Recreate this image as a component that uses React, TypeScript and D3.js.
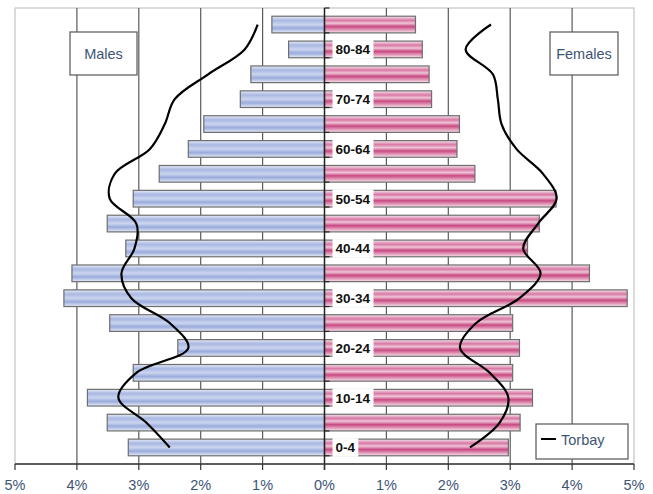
import React from "react";
import * as d3 from "d3";

const ages = ["0-4","5-9","10-14","15-19","20-24","25-29","30-34","35-39","40-44","45-49","50-54","55-59","60-64","65-69","70-74","75-79","80-84","85+"];
const labelledAges = ["0-4","10-14","20-24","30-34","40-44","50-54","60-64","70-74","80-84"];
const males = [3.17,3.51,3.83,3.09,2.37,3.47,4.21,4.08,3.21,3.51,3.09,2.67,2.2,1.95,1.36,1.19,0.58,0.85];
const females = [2.97,3.16,3.36,3.04,3.15,3.04,4.89,4.28,3.28,3.47,3.74,2.43,2.14,2.18,1.73,1.69,1.58,1.47];
const torbayMales = [2.5,2.88,3.33,3.04,2.2,2.5,3.12,3.28,3.07,3.04,3.47,3.39,2.82,2.58,2.42,1.88,1.29,1.08];
const torbayFemales = [2.35,2.83,2.97,2.67,2.19,2.45,3.15,3.49,3.21,3.45,3.75,3.53,3.1,2.86,2.8,2.72,2.28,2.69];
const xTicks = [-5,-4,-3,-2,-1,0,1,2,3,4,5];

const W = 653, H = 494;
const left = 15, right = 634, top = 8, bottom = 464;
const font = "Arial, 'Liberation Sans', sans-serif";
const txtColor = "#3d5575";

export default function App() {
  const x = d3.scaleLinear().domain([-5, 5]).range([left, right]);
  const y = d3.scaleBand<string>().domain([...ages].reverse()).range([top, bottom]).padding(0.33);
  const step = y.step();
  const bw = y.bandwidth();
  const cy = (a: string) => (y(a) as number) + bw / 2;

  const line = d3.line<[number, number]>().x(d => d[0]).y(d => d[1]).curve(d3.curveCatmullRom.alpha(0.5));
  const mPts: [number, number][] = ages.map((a, i) => [x(-torbayMales[i]), cy(a)]);
  const fPts: [number, number][] = ages.map((a, i) => [x(torbayFemales[i]), cy(a)]);

  const boundaries = d3.range(ages.length + 1).map(i => top + i * step);

  return (
    <svg width={W} height={H} style={{ position: "absolute", left: 0, top: 0, background: "#fff" }}>
      <defs>
        <linearGradient id="gm" x1="0" y1="0" x2="0" y2="1">
          <stop offset="0" stopColor="#e6ebf7" />
          <stop offset="0.25" stopColor="#a9b8e2" />
          <stop offset="0.5" stopColor="#cbd5ef" />
          <stop offset="0.72" stopColor="#9aabdc" />
          <stop offset="1" stopColor="#e6ebf7" />
        </linearGradient>
        <linearGradient id="gf" x1="0" y1="0" x2="0" y2="1">
          <stop offset="0" stopColor="#f5e6ee" />
          <stop offset="0.25" stopColor="#d878a4" />
          <stop offset="0.42" stopColor="#efc4d7" />
          <stop offset="0.62" stopColor="#c84a82" />
          <stop offset="0.85" stopColor="#e6a6c2" />
          <stop offset="1" stopColor="#f5e6ee" />
        </linearGradient>
      </defs>
      {/* plot border */}
      <rect x={left} y={top} width={right - left} height={bottom - top} fill="#fff" stroke="#c4c4c4" strokeWidth={1.2} />
      {/* gridlines */}
      {xTicks.filter(t => Math.abs(t) !== 5 && t !== 0).map(t => (
        <line key={"g" + t} x1={x(t)} x2={x(t)} y1={top} y2={bottom} stroke="#5a5a5a" strokeWidth={1.2} />
      ))}
      {/* bars */}
      {ages.map((a, i) => (
        <rect key={"m" + a} x={x(-males[i])} y={y(a)} width={x(0) - x(-males[i])} height={bw} fill="url(#gm)" stroke="#6e6e6e" strokeWidth={1.2} />
      ))}
      {ages.map((a, i) => (
        <rect key={"f" + a} x={x(0)} y={y(a)} width={x(females[i]) - x(0)} height={bw} fill="url(#gf)" stroke="#6e6e6e" strokeWidth={1.2} />
      ))}
      {/* Torbay lines */}
      <path d={line(mPts) || ""} fill="none" stroke="#000" strokeWidth={2.2} />
      <path d={line(fPts) || ""} fill="none" stroke="#000" strokeWidth={2.2} />
      {/* zero axis */}
      <line x1={x(0)} x2={x(0)} y1={top} y2={bottom + 6} stroke="#222" strokeWidth={1.5} />
      {boundaries.map((b, i) => (
        <line key={"bt" + i} x1={x(0)} x2={x(0) + 5} y1={b} y2={b} stroke="#222" strokeWidth={1.2} />
      ))}
      {/* age labels */}
      {labelledAges.map(a => {
        const w = a.length * 7.6 - (a.includes("-") ? 3 : 0);
        return (
          <g key={"l" + a}>
            <rect x={x(0) + 8} y={(y(a) as number) - 1} width={w + 6} height={bw + 2} fill="#fff" />
            <text x={x(0) + 11} y={cy(a) + 5} fontFamily={font} fontSize={13.5} fontWeight="bold" fill="#111">{a}</text>
          </g>
        );
      })}
      {/* bottom axis */}
      <line x1={left} x2={right} y1={bottom} y2={bottom} stroke="#333" strokeWidth={1.3} />
      {xTicks.map(t => (
        <g key={"t" + t}>
          <line x1={x(t)} x2={x(t)} y1={bottom} y2={bottom + 6} stroke="#333" strokeWidth={1.2} />
          <text x={x(t)} y={490} textAnchor="middle" fontFamily={font} fontSize={14.5} fill={txtColor}>{Math.abs(t) + "%"}</text>
        </g>
      ))}
      {/* Males / Females boxes */}
      <rect x={70} y={32} width={67} height={43} fill="#fff" stroke="#555" strokeWidth={1.2} />
      <text x={103.5} y={59} textAnchor="middle" fontFamily={font} fontSize={14.5} fill={txtColor}>Males</text>
      <rect x={550} y={32} width={68} height={43} fill="#fff" stroke="#555" strokeWidth={1.2} />
      <text x={584} y={59} textAnchor="middle" fontFamily={font} fontSize={14.5} fill={txtColor}>Females</text>
      {/* legend */}
      <rect x={536} y={424} width={92} height={35} fill="#fff" stroke="#555" strokeWidth={1.2} />
      <line x1={541} x2={556} y1={439} y2={439} stroke="#000" strokeWidth={2} />
      <text x={561} y={445} fontFamily={font} fontSize={14.5} fill={txtColor}>Torbay</text>
    </svg>
  );
}
